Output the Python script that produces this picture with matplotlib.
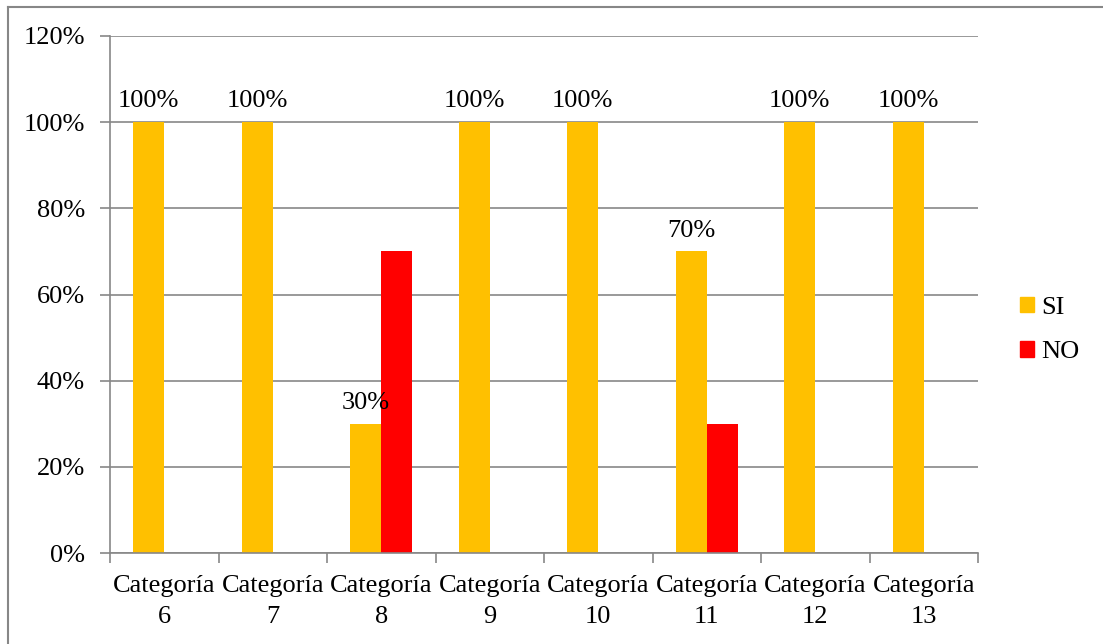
import matplotlib
matplotlib.use("Agg")
import matplotlib.pyplot as plt
from matplotlib.lines import Line2D
from matplotlib.patches import Patch
import numpy as np

categories = ["Categoría\n6", "Categoría\n7", "Categoría\n8", "Categoría\n9",
              "Categoría\n10", "Categoría\n11", "Categoría\n12", "Categoría\n13"]
si_values = [100, 100, 30, 100, 100, 70, 100, 100]
no_values = [0, 0, 70, 0, 0, 30, 0, 0]
y_ticks = [0, 20, 40, 60, 80, 100, 120]

plt.rcParams["font.family"] = ["Liberation Serif", "DejaVu Serif"]
GRAY = "#878787"
SI_COLOR = "#FFC000"
NO_COLOR = "#FF0000"
FS = 19

W, H = 1103, 644
fig = plt.figure(figsize=(W / 100, H / 100), dpi=100)
ax = fig.add_axes([110 / W, 1 - 553 / H, (978 - 110) / W, (553 - 36) / H])

x = np.arange(len(categories))
bw = 0.286
bars_si = ax.bar(x - bw / 2, si_values, bw, color=SI_COLOR, zorder=2, label="SI")
bars_no = ax.bar(x + bw / 2, no_values, bw, color=NO_COLOR, zorder=2, label="NO")

for rect, v in zip(bars_si, si_values):
    ax.annotate(f"{v}%", (rect.get_x() + rect.get_width() / 2, v),
                xytext=(0, 7), textcoords="offset points",
                ha="center", va="bottom", fontsize=FS, zorder=3)

ax.set_xlim(-0.5, len(categories) - 0.5)
ax.set_ylim(0, 120)
ax.set_yticks(y_ticks)
ax.set_yticklabels([f"{t}%" for t in y_ticks], fontsize=FS)
ax.yaxis.grid(True, color=GRAY, linewidth=1.2, zorder=0)
ax.set_axisbelow(True)

ax.set_xticks(x)
ax.set_xticklabels(categories, fontsize=FS, linespacing=1.5)
ax.set_xticks(np.arange(-0.5, len(categories)), minor=True)
ax.tick_params(axis="x", which="major", length=0, pad=16)
ax.tick_params(axis="x", which="minor", length=7, width=1.2, color=GRAY, direction="out")
ax.tick_params(axis="y", length=7, width=1.2, color=GRAY, direction="out", pad=11)

for side in ("top", "right"):
    ax.spines[side].set_visible(False)
for side in ("left", "bottom"):
    ax.spines[side].set_color(GRAY)
    ax.spines[side].set_linewidth(1.2)

handles = [Patch(color=SI_COLOR, label="SI"), Patch(color=NO_COLOR, label="NO")]
fig.legend(handles=handles, loc="center left", bbox_to_anchor=(996 / W, 1 - 330 / H),
           frameon=False, fontsize=FS, handlelength=0.55, handleheight=0.55,
           handletextpad=0.25, labelspacing=0.85)

# outer chart border
fig.add_artist(Line2D([8 / W, 8 / W], [0, 1 - 7 / H], color=GRAY, linewidth=1.5))
fig.add_artist(Line2D([8 / W, 1], [1 - 7 / H, 1 - 7 / H], color=GRAY, linewidth=1.5))

fig.savefig("out.png", dpi=100)
